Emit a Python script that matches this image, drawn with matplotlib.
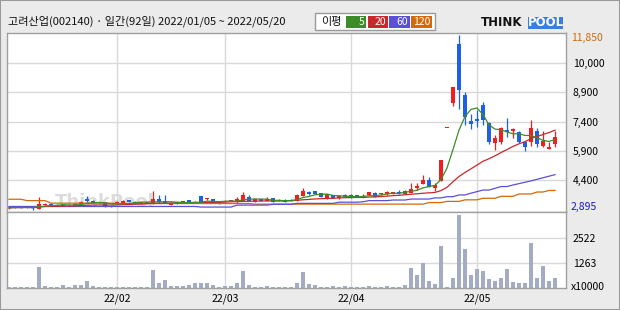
import matplotlib
matplotlib.use('Agg')
import matplotlib.pyplot as plt
import numpy as np
import pandas as pd
from matplotlib.patches import Rectangle

plt.rcParams['font.family'] = ['Noto Sans CJK KR', 'DejaVu Sans']

title = "고려산업(002140) · 일간(92일) 2022/01/05 ~ 2022/05/20"
holidays = ['2022-01-31', '2022-02-01', '2022-02-02', '2022-03-01', '2022-03-09', '2022-05-05']
dates = pd.bdate_range('2022-01-05', '2022-05-20')
dates = dates[~dates.isin(pd.to_datetime(holidays))]

opens = [2960, 2990, 3020, 3000, 3030, 2930, 3160, 3200, 3150, 3090, 3140, 3100, 3200, 3420, 3340, 3240, 3290, 3080,
         3190, 3250, 3390, 3300, 3220, 3250, 3230, 3440, 3350, 3140, 3300, 3270, 3390, 3300, 3600, 3430, 3430, 3340,
         3300, 3350, 3330, 3360, 3560, 3300, 3420, 3340, 3480, 3360, 3400, 3350, 3360, 3620, 3820, 3840, 3730, 3480,
         3630, 3480, 3660, 3650, 3650, 3560, 3650, 3770, 3680, 3680, 3710, 3820, 3700, 3770, 4000, 4210, 4415, 3990,
         4380, 7060, 8340, 11380, 8780, 7450, 7560, 8260, 7330, 6330, 6350, 6975, 6920, 6860, 6350, 6350, 6920, 6170,
         6000, 6240]
highs = [3010, 3040, 3060, 3040, 3040, 3560, 3240, 3220, 3170, 3160, 3160, 3230, 3330, 3620, 3380, 3300, 3300, 3100,
         3320, 3380, 3410, 3320, 3280, 3310, 3850, 3650, 3650, 3270, 3310, 3350, 3410, 3320, 3620, 3500, 3450, 3360,
         3370, 3400, 3560, 3780, 3650, 3440, 3440, 3530, 3500, 3420, 3420, 3420, 3700, 3990, 3860, 3870, 3750, 3700,
         3650, 3630, 3680, 3690, 3660, 3700, 3800, 3790, 3740, 3830, 3800, 3900, 3890, 4280, 4280, 4670, 4550, 4260,
         5440, 7060, 9180, 11850, 8920, 7800, 8000, 8420, 7380, 6720, 7120, 7570, 7080, 6920, 6400, 7490, 7090, 6920,
         6370, 6920]
lows = [2930, 2960, 2980, 2960, 2895, 2905, 3140, 3120, 3060, 3070, 3090, 3090, 3180, 3300, 3220, 3220, 3040, 3040,
        3170, 3230, 3280, 3200, 3200, 3230, 3210, 3250, 3230, 3120, 3170, 3250, 3270, 3240, 3280, 3410, 3240, 3210,
        3280, 3330, 3250, 3340, 3340, 3280, 3320, 3320, 3280, 3340, 3280, 3330, 3340, 3600, 3650, 3680, 3540, 3460,
        3470, 3460, 3540, 3510, 3550, 3530, 3640, 3550, 3660, 3670, 3700, 3720, 3680, 3750, 3900, 4190, 4050, 3870,
        4350, 7060, 8200, 8060, 7230, 7050, 7150, 7230, 6240, 5950, 6280, 6630, 6580, 6300, 5900, 6170, 6100, 6120,
        5990, 6120]
closes = [2990, 3020, 3000, 3030, 2960, 3190, 3210, 3150, 3080, 3140, 3110, 3200, 3300, 3330, 3240, 3280, 3060, 3060,
          3300, 3350, 3300, 3220, 3260, 3290, 3440, 3270, 3250, 3250, 3190, 3330, 3290, 3260, 3300, 3480, 3260, 3230,
          3350, 3380, 3420, 3650, 3360, 3420, 3340, 3420, 3300, 3400, 3300, 3400, 3650, 3830, 3700, 3700, 3560, 3680,
          3490, 3610, 3560, 3530, 3560, 3610, 3790, 3560, 3730, 3820, 3790, 3740, 3870, 3940, 4110, 4415, 4070, 4160,
          5440, 7060, 9180, 9000, 7650, 7260, 7420, 7490, 6380, 6550, 7090, 6860, 7030, 6380, 6120, 7090, 6240, 6410,
          6080, 6630]
volumes = [50, 50, 50, 50, 50, 1075, 120, 60, 60, 170, 60, 150, 150, 370, 100, 50, 50, 50,
           50, 50, 50, 50, 50, 50, 920, 270, 420, 100, 100, 100, 150, 270, 270, 270, 150, 60,
           100, 100, 270, 870, 150, 60, 60, 100, 60, 60, 60, 60, 270, 820, 220, 150, 60, 60,
           100, 60, 100, 50, 50, 60, 100, 60, 60, 100, 60, 60, 150, 1025, 670, 1275, 370, 220,
           2130, 60, 520, 3700, 1980, 670, 975, 870, 470, 370, 520, 975, 320, 270, 270, 2285, 520, 1125,
           370, 520]
ma60 = [3060, 3060, 3060, 3060, 3060, 3060, 3060, 3060, 3060, 3060, 3060, 3060, 3060, 3060, 3060, 3060, 3060, 3060,
        3060, 3060, 3060, 3060, 3060, 3060, 3060, 3060, 3060, 3060, 3060, 3060, 3060, 3060, 3030, 3030, 3030, 3030,
        3030, 3030, 3130, 3130, 3130, 3130, 3130, 3130, 3170, 3170, 3170, 3170, 3220, 3220, 3220, 3220, 3220, 3220,
        3220, 3280, 3280, 3280, 3280, 3300, 3360, 3360, 3360, 3360, 3390, 3390, 3390, 3440, 3440, 3440, 3440, 3500,
        3500, 3560, 3560, 3650, 3650, 3740, 3820, 3900, 3900, 3990, 4080, 4080, 4160, 4230, 4300, 4370, 4450, 4530,
        4610, 4690]
ma120 = [3430, 3430, 3430, 3360, 3360, 3360, 3360, 3230, 3230, 3230, 3230, 3230, 3230, 3230, 3230, 3230, 3230, 3230,
         3210, 3210, 3210, 3210, 3210, 3210, 3210, 3210, 3210, 3210, 3210, 3210, 3210, 3210, 3210, 3210, 3210, 3210,
         3210, 3210, 3210, 3210, 3210, 3180, 3180, 3180, 3180, 3180, 3180, 3180, 3180, 3180, 3180, 3180, 3180, 3180,
         3180, 3180, 3180, 3180, 3180, 3180, 3180, 3180, 3180, 3180, 3180, 3180, 3180, 3180, 3180, 3180, 3260, 3260,
         3260, 3320, 3320, 3320, 3400, 3400, 3400, 3480, 3480, 3480, 3580, 3580, 3580, 3700, 3700, 3700, 3800, 3800,
         3880, 3880]

price_ticks = [4400, 5900, 7400, 8900, 10400]
price_tick_labels = ['4,400', '5,900', '7,400', '8,900', '10,000']
vol_ticks = [1263, 2522]
vol_tick_labels = ['1263', '2522']
ma_names = ['5', '20', '60', '120']
ma_colors = ['#3c8c28', '#c8282a', '#5a50d8', '#d2690a']

idx = np.arange(len(closes))
o = np.array(opens); c = np.array(closes); h = np.array(highs); l = np.array(lows)
ma5 = pd.Series(closes).rolling(5, min_periods=1).mean().values
ma20 = pd.Series(closes).rolling(20, min_periods=1).mean().values

month = pd.Series(dates.month)
month_first = [int(i) for i in np.where(month.diff().fillna(0) != 0)[0]]
month_labels = [dates[i].strftime('%y/%m') for i in month_first]

UP = '#f01e1e'
DOWN = '#1e5fe6'
GRID = '#d9d9d9'
EDGE = '#a0a0a0'

W, H = 620, 310
fig = plt.figure(figsize=(6.2, 3.1), dpi=100, facecolor='#ebebeb')

def fr(x0, y0, x1, y1):
    return [x0 / W, 1 - y1 / H, (x1 - x0) / W, (y1 - y0) / H]

ax = fig.add_axes(fr(7, 33, 566, 212))
axv = fig.add_axes(fr(7, 212, 566, 288))

xlim = (-0.33, 92.83)
for a in (ax, axv):
    a.set_facecolor('white')
    a.set_xlim(*xlim)
    for s in a.spines.values():
        s.set_color(EDGE)
        s.set_linewidth(1)
    a.set_xticks(month_first)
    a.grid(True, color=GRID, linewidth=1, zorder=0)
    a.set_axisbelow(True)
    a.yaxis.tick_right()
    a.tick_params(length=0, labelsize=7.5, pad=5)

ax.set_ylim(2777, 11941)
ax.set_yticks(price_ticks)
ax.set_yticklabels(price_tick_labels)
ax.set_xticklabels([])

# watermark
ax.text(16, 3290, 'ThinkPool', fontsize=13, fontweight='bold', color='#dcdcdc',
        ha='center', va='center', zorder=0.5, family='DejaVu Sans')

cols = np.where(c >= o, UP, DOWN)
ax.vlines(idx, l, h, colors=cols, linewidth=0.9, zorder=2)
body_bottom = np.minimum(o, c)
body_h = np.maximum(np.abs(c - o), 45)
ax.bar(idx, body_h, bottom=body_bottom, width=0.78, color=cols, linewidth=0, zorder=3)

for vals, col in zip([ma120, ma60, ma20, ma5], ma_colors[::-1]):
    ax.plot(idx, vals, color=col, linewidth=0.9, zorder=4)

hi = max(highs); lo = min(lows)
ax.annotate(f"{hi:,}", xy=(1.009, hi), xycoords=('axes fraction', 'data'), xytext=(0, -2),
            textcoords='offset points', va='center', ha='left', fontsize=7.5, color='#d2690a',
            annotation_clip=False)
ax.annotate(f"{lo:,}", xy=(1.009, lo), xycoords=('axes fraction', 'data'), xytext=(0, 2),
            textcoords='offset points', va='center', ha='left', fontsize=7.5, color='#1a1ad0',
            annotation_clip=False)

axv.set_ylim(0, 3834)
axv.bar(idx, volumes, width=0.68, color='#a3acc4', linewidth=0, zorder=2)
axv.set_yticks(vol_ticks)
axv.set_yticklabels(vol_tick_labels)
axv.set_xticklabels(month_labels)
axv.tick_params(axis='x', pad=4)
axv.annotate('x10000', xy=(1.009, 0), xycoords='axes fraction', xytext=(0, 1),
             textcoords='offset points', va='center', ha='left', fontsize=7.5, annotation_clip=False)

# header
fig.text(8 / W, 1 - 21.5 / H, title, fontsize=8, va='center', ha='left', color='#111111')

# legend box
fig.patches.append(Rectangle((315 / W, 1 - 30 / H), 120 / W, 17.5 / H, transform=fig.transFigure,
                             facecolor='white', edgecolor='#9a9a9a', linewidth=1))
fig.text(321 / W, 1 - 21.5 / H, '이평', fontsize=8, va='center', ha='left', color='#111111')
boxes = [(346, 366), (368, 388), (389, 410), (411, 432)]
for (x0, x1), name, col in zip(boxes, ma_names, ma_colors):
    fig.patches.append(Rectangle((x0 / W, 1 - 28 / H), (x1 - x0) / W, 12 / H, transform=fig.transFigure,
                                 facecolor=col, edgecolor='none'))
    fig.text((x1 - 1.5) / W, 1 - 22 / H, name, fontsize=7.5, va='center', ha='right', color='white')

# logo
fig.text(481 / W, 1 - 22.5 / H, 'THINK', fontsize=8.5, fontweight='bold', va='center', ha='left',
         color='#111111', family='DejaVu Sans')
fig.patches.append(Rectangle((528 / W, 1 - 28.5 / H), 35 / W, 12 / H, transform=fig.transFigure,
                             facecolor='#3d7de0', edgecolor='none'))
fig.text(545.5 / W, 1 - 22.5 / H, 'POOL', fontsize=8.5, fontweight='bold', va='center', ha='center',
         color='white', family='DejaVu Sans')

# outer frame
fig.patches.append(Rectangle((0, 0), 1, 1, transform=fig.transFigure, facecolor='none',
                             edgecolor='#9a9a9a', linewidth=1.5))

fig.savefig('out.png', dpi=100, facecolor=fig.get_facecolor())
